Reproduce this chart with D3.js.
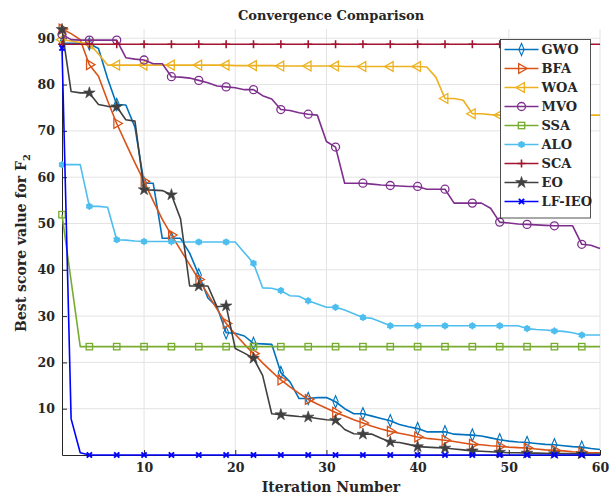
<!DOCTYPE html>
<html>
<head>
<meta charset="utf-8">
<script src="https://cdn.jsdelivr.net/npm/d3@7"></script>
<style>
  body { margin: 0; background: #fff; }
  svg text { font-family: "DejaVu Serif", "Liberation Serif", serif; font-weight: bold; fill: #262626; }
</style>
</head>
<body>
<div id="chart"></div>
<script>
// iterations 1..60, best score per algorithm
const iterations = d3.range(1, 61);
const xTicks = [10, 20, 30, 40, 50, 60];
const yTicks = [10, 20, 30, 40, 50, 60, 70, 80, 90];

const gwo = [88.9, 88.9, 88.9, 88.8, 87.8, 81.3, 75.7, 75.6, 70.8, 58.7,
  58.7, 46.8, 46.8, 46.8, 43.6, 38.9, 33.9, 32.0, 26.4, 26.3,
  25.7, 24.1, 24.0, 23.9, 17.8, 15.8, 12.2, 12.2, 12.4, 12.4,
  11.5, 10.0, 8.9, 8.9, 8.4, 7.9, 7.4, 6.6, 6.1, 5.7,
  5.0, 5.0, 5.0, 4.5, 4.4, 4.3, 4.1, 3.7, 3.3, 3.0,
  2.8, 2.7, 2.5, 2.3, 2.2, 2.0, 1.8, 1.7, 1.4, 1.2];
const bfa = [92.0, 91.0, 89.7, 84.3, 81.8, 76.5, 71.6, 67.3, 63.1, 59.1,
  54.9, 50.9, 47.5, 44.3, 41.1, 37.9, 34.7, 31.5, 28.4, 26.1,
  23.9, 21.9, 19.9, 18.0, 16.2, 14.7, 13.3, 12.0, 11.0, 10.1,
  9.2, 8.4, 7.6, 6.9, 6.2, 5.6, 5.1, 4.7, 4.3, 3.9,
  3.6, 3.4, 3.2, 2.9, 2.6, 2.3, 2.2, 2.0, 1.9, 1.7,
  1.6, 1.5, 1.3, 1.1, 1.0, 0.9, 0.7, 0.6, 0.5, 0.5];
const woa = [89.7, 89.4, 89.1, 88.8, 86.6, 84.2, 84.2, 84.2, 84.2, 84.2,
  84.2, 84.2, 84.2, 84.2, 84.2, 84.2, 84.2, 84.2, 84.2, 84.1,
  84.1, 84.1, 84.1, 84.1, 84.0, 84.0, 84.0, 84.0, 84.0, 84.0,
  84.0, 83.9, 83.9, 83.9, 83.9, 83.9, 83.9, 83.9, 83.9, 83.9,
  83.8, 81.6, 77.0, 77.0, 76.6, 73.7, 73.7, 73.5, 73.4, 73.4,
  73.4, 73.4, 73.4, 73.4, 73.4, 73.4, 73.4, 73.4, 73.4, 73.4];
const mvo = [90.8, 89.7, 89.6, 89.6, 89.6, 89.6, 89.6, 85.8, 85.5, 85.3,
  84.5, 84.5, 81.7, 81.6, 81.4, 80.9, 80.4, 79.7, 79.5, 79.3,
  78.9, 78.9, 77.6, 76.9, 74.6, 74.4, 73.9, 73.6, 73.4, 67.7,
  66.5, 58.7, 58.7, 58.7, 58.5, 58.3, 58.2, 58.1, 58.0, 58.0,
  57.4, 57.4, 57.4, 54.4, 54.4, 54.4, 54.4, 53.3, 50.3, 50.1,
  49.9, 49.8, 49.7, 49.6, 49.5, 49.5, 49.5, 45.5, 45.3, 44.6];
const ssa = [51.9, 37.6, 23.4, 23.4, 23.4, 23.4, 23.4, 23.4, 23.4, 23.4,
  23.4, 23.4, 23.4, 23.4, 23.4, 23.4, 23.4, 23.4, 23.4, 23.4,
  23.4, 23.4, 23.4, 23.4, 23.4, 23.4, 23.4, 23.4, 23.4, 23.4,
  23.4, 23.4, 23.4, 23.4, 23.4, 23.4, 23.4, 23.4, 23.4, 23.4,
  23.4, 23.4, 23.4, 23.4, 23.4, 23.4, 23.4, 23.4, 23.4, 23.4,
  23.4, 23.4, 23.4, 23.4, 23.4, 23.4, 23.4, 23.4, 23.4, 23.4];
const alo = [62.7, 62.7, 62.7, 53.7, 53.7, 53.5, 46.5, 46.4, 46.2, 46.1,
  46.1, 46.1, 46.1, 46.0, 46.0, 46.0, 46.0, 46.0, 46.0, 46.0,
  43.7, 41.4, 36.1, 36.0, 35.5, 34.4, 34.3, 33.3, 32.6, 31.9,
  31.9, 31.3, 30.5, 29.7, 29.5, 28.7, 27.9, 27.9, 27.9, 27.9,
  27.9, 27.9, 27.9, 27.9, 27.9, 27.9, 27.9, 27.9, 27.9, 27.9,
  27.9, 27.3, 27.1, 27.0, 26.8, 26.7, 26.4, 25.9, 25.9, 25.9];
const sca = [88.7, 88.7, 88.7, 88.7, 88.7, 88.7, 88.7, 88.7, 88.7, 88.7,
  88.7, 88.7, 88.7, 88.7, 88.7, 88.7, 88.7, 88.7, 88.7, 88.7,
  88.7, 88.7, 88.7, 88.7, 88.7, 88.7, 88.7, 88.7, 88.7, 88.7,
  88.7, 88.7, 88.7, 88.7, 88.7, 88.7, 88.7, 88.7, 88.7, 88.7,
  88.7, 88.7, 88.7, 88.7, 88.7, 88.7, 88.7, 88.7, 88.7, 88.7,
  88.7, 88.7, 88.7, 88.7, 88.7, 88.7, 88.7, 88.7, 88.7, 88.7];
const eo = [91.9, 78.5, 78.2, 78.2, 75.7, 75.3, 75.2, 72.4, 72.1, 57.3,
  57.2, 57.1, 56.2, 51.0, 36.5, 36.5, 36.5, 32.0, 32.2, 23.0,
  22.0, 20.9, 17.2, 8.9, 8.7, 8.5, 8.3, 8.2, 7.9, 7.6,
  7.5, 5.5, 4.6, 4.5, 4.5, 3.6, 2.8, 2.7, 2.3, 1.8,
  1.7, 1.6, 1.5, 1.3, 1.1, 0.9, 0.8, 0.7, 0.6, 0.5,
  0.5, 0.4, 0.4, 0.35, 0.3, 0.3, 0.3, 0.25, 0.2, 0.2];
const lfieo = [87.9, 7.8, 0.5, 0, 0, 0, 0, 0, 0, 0,
  0, 0, 0, 0, 0, 0, 0, 0, 0, 0,
  0, 0, 0, 0, 0, 0, 0, 0, 0, 0,
  0, 0, 0, 0, 0, 0, 0, 0, 0, 0,
  0, 0, 0, 0, 0, 0, 0, 0, 0, 0,
  0, 0, 0, 0, 0, 0, 0, 0, 0, 0];

const seriesNames = ["GWO", "BFA", "WOA", "MVO", "SSA", "ALO", "SCA", "EO", "LF-IEO"];
const seriesValues = [gwo, bfa, woa, mvo, ssa, alo, sca, eo, lfieo];
const seriesColors = ["#0072BD", "#D95319", "#EDB120", "#7E2F8E", "#77AC30", "#4DBEEE", "#A2142F", "#404040", "#0000FF"];
const seriesMarkers = ["diamond", "triRight", "triLeft", "circle", "square", "asterisk", "plus", "star", "cross"];

function drawMarker(g, type, color) {
  const open = { fill: "none", stroke: color, "stroke-width": 1.3 };
  let p;
  if (type === "diamond") {
    p = g.append("path").attr("d", d3.symbol(d3.symbolDiamond, 36)());
    p.attr("transform", "scale(0.8,1.1)");
  } else if (type === "triRight") {
    p = g.append("path").attr("d", d3.symbol(d3.symbolTriangle, 42)()).attr("transform", "rotate(90)");
  } else if (type === "triLeft") {
    p = g.append("path").attr("d", d3.symbol(d3.symbolTriangle, 42)()).attr("transform", "rotate(-90)");
  } else if (type === "circle") {
    p = g.append("circle").attr("r", 4);
  } else if (type === "square") {
    p = g.append("rect").attr("x", -3.2).attr("y", -3.2).attr("width", 6.4).attr("height", 6.4);
  } else if (type === "asterisk") {
    g.append("circle").attr("r", 3).attr("fill", color);
    g.append("path").attr("d", d3.symbol(d3.symbolAsterisk, 36)())
      .attr("stroke", color).attr("stroke-width", 1.4);
    return;
  } else if (type === "plus") {
    g.append("path").attr("d", "M0,-4V4M-4,0H4").attr("stroke", color).attr("stroke-width", 1.6);
    return;
  } else if (type === "star") {
    g.append("path").attr("d", d3.symbol(d3.symbolStar, 42)()).attr("fill", color).attr("stroke", color).attr("stroke-width", 0.6);
    return;
  } else if (type === "cross") {
    g.append("path").attr("d", "M-2.6,-2.6L2.6,2.6M-2.6,2.6L2.6,-2.6").attr("stroke", color).attr("stroke-width", 2);
    return;
  }
  Object.entries(open).forEach(([k, v]) => p.attr(k, v));
}

function convergence_plot(ax) {
  const width = 612;
  const height = 497;

  const svg = d3.select(ax)
    .append("svg")
    .attr("width", width)
    .attr("height", height);

  const x = d3.scaleLinear().domain([1, 60]).range([62, 600]);
  const y = d3.scaleLinear().domain([0, 92]).range([455, 29]);

  // grid
  svg.append("g").selectAll("line")
    .data(xTicks).enter().append("line")
    .attr("x1", d => x(d)).attr("x2", d => x(d))
    .attr("y1", y(92)).attr("y2", y(0))
    .attr("stroke", "#e3e3e3").attr("stroke-width", 1);
  svg.append("g").selectAll("line")
    .data(yTicks).enter().append("line")
    .attr("x1", x(1)).attr("x2", x(60))
    .attr("y1", d => y(d)).attr("y2", d => y(d))
    .attr("stroke", "#e3e3e3").attr("stroke-width", 1);

  // axes
  const xAxis = svg.append("g")
    .attr("transform", `translate(0, ${y(0)})`)
    .call(d3.axisBottom(x).tickValues(xTicks).tickSizeInner(-5).tickSizeOuter(0).tickPadding(8));
  const yAxis = svg.append("g")
    .attr("transform", `translate(${x(1)}, 0)`)
    .call(d3.axisLeft(y).tickValues(yTicks).tickSizeInner(-5).tickSizeOuter(0).tickPadding(7));
  [xAxis, yAxis].forEach(a => {
    a.selectAll("path, line").attr("stroke", "#262626");
    a.selectAll("text").attr("font-size", "12.5px").attr("font-family", null).attr("fill", "#262626");
  });

  // lines + markers
  const line = d3.line().x((d, i) => x(iterations[i])).y(d => y(d));
  seriesValues.forEach((vals, s) => {
    const g = svg.append("g");
    g.append("path")
      .attr("d", line(vals))
      .attr("fill", "none")
      .attr("stroke", seriesColors[s])
      .attr("stroke-width", 1.6)
      .attr("stroke-linejoin", "round");
    vals.forEach((v, i) => {
      if (i % 3 !== 0) return;
      const m = g.append("g").attr("transform", `translate(${x(iterations[i])}, ${y(v)})`);
      drawMarker(m, seriesMarkers[s], seriesColors[s]);
    });
  });

  // title + labels
  svg.append("text")
    .attr("x", 331).attr("y", 20)
    .attr("text-anchor", "middle")
    .attr("font-size", "13px")
    .text("Convergence Comparison");

  svg.append("text")
    .attr("x", 331).attr("y", 492)
    .attr("text-anchor", "middle")
    .attr("font-size", "14px")
    .text("Iteration Number");

  const yl = svg.append("text")
    .attr("transform", "translate(26, 243) rotate(-90)")
    .attr("text-anchor", "middle")
    .attr("font-size", "14px");
  yl.append("tspan").text("Best score value for F");
  yl.append("tspan").attr("font-size", "10px").attr("dy", 4).text("2");

  // legend
  const legend = svg.append("g").attr("transform", "translate(500.5, 39.5)");
  legend.append("rect")
    .attr("width", 90).attr("height", 178.5)
    .attr("fill", "#fff").attr("stroke", "#262626").attr("stroke-width", 0.8);

  const items = legend.selectAll(".legend-item")
    .data(seriesNames)
    .enter()
    .append("g")
    .attr("class", "legend-item")
    .attr("transform", (d, i) => `translate(0, ${10 + i * 19})`);

  items.append("line")
    .attr("x1", 4).attr("x2", 38)
    .attr("stroke", (d, i) => seriesColors[i])
    .attr("stroke-width", 1.6);
  items.each(function (d, i) {
    const m = d3.select(this).append("g").attr("transform", "translate(21, 0)");
    drawMarker(m, seriesMarkers[i], seriesColors[i]);
  });
  items.append("text")
    .attr("x", 41).attr("y", 4.5)
    .attr("font-size", "13px")
    .text(d => d);
}

convergence_plot("#chart");
</script>
</body>
</html>
